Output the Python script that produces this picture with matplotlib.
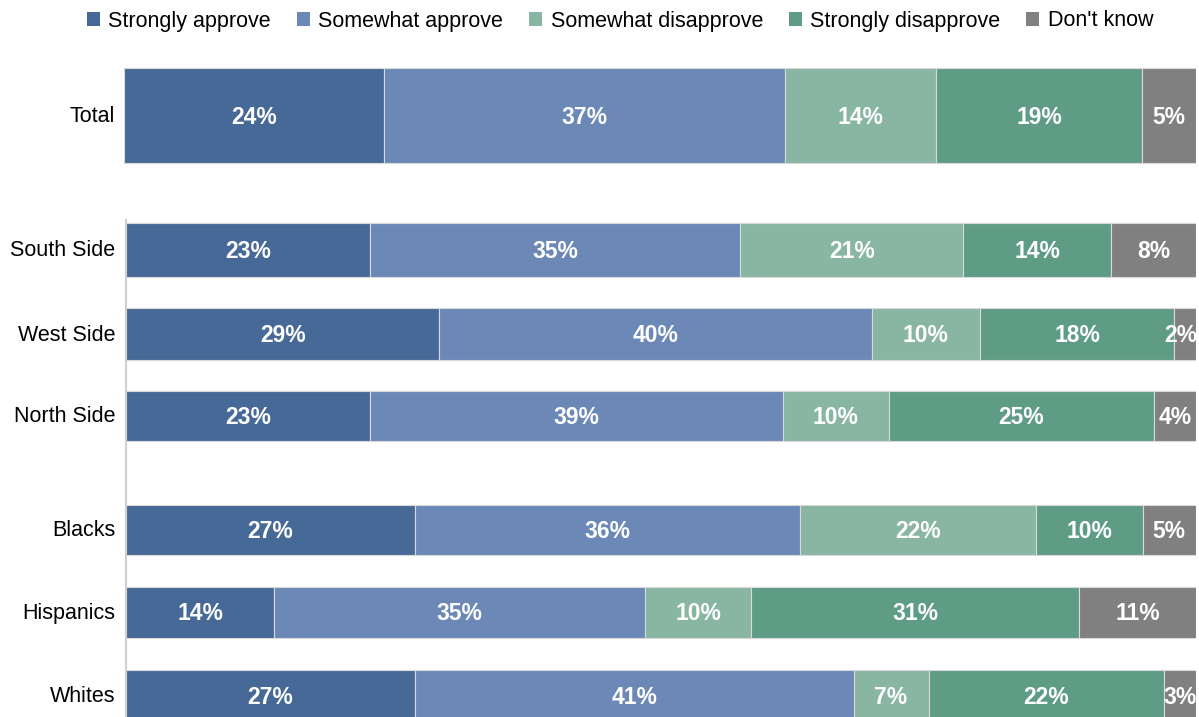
import matplotlib.pyplot as plt
from matplotlib.patches import Patch
import numpy as np

plt.rcParams["font.family"] = ["Liberation Sans", "DejaVu Sans"]

groups = ["Total", "South Side", "West Side", "North Side", "Blacks", "Hispanics", "Whites"]
series = ["Strongly approve", "Somewhat approve", "Somewhat disapprove",
          "Strongly disapprove", "Don't know"]
strongly_approve = [24, 23, 29, 23, 27, 14, 27]
somewhat_approve = [37, 35, 40, 39, 36, 35, 41]
somewhat_disapprove = [14, 21, 10, 10, 22, 10, 7]
strongly_disapprove = [19, 14, 18, 25, 10, 31, 22]
dont_know = [5, 8, 2, 4, 5, 11, 3]

colors = ["#476997", "#6b88b7", "#89b5a3", "#5f9c86", "#808080"]

# layout in pixel units (y centre / bar height)
y_pos = [115, 250, 334, 416, 530, 612, 695]
heights = [95, 54, 52, 50, 50, 51, 50]

vals = np.array([strongly_approve, somewhat_approve, somewhat_disapprove,
                 strongly_disapprove, dont_know], dtype=float)
shares = vals / vals.sum(axis=0) * 100

W, H = 1199, 717
fig = plt.figure(figsize=(W / 100, H / 100), dpi=100)

# top axes: Total only, bottom axes: the rest (with the grey left line)
ax_top = fig.add_axes([124 / W, 1 - 175 / H, (1196 - 124) / W, (175 - 55) / H])
ax_top.set_xlim(0, 100)
ax_top.set_ylim(175, 55)
ax = fig.add_axes([126 / W, 0, (1196 - 126) / W, (717 - 220) / H])
ax.set_xlim(0, 100)
ax.set_ylim(717, 220)

for i, g in enumerate(groups):
    a = ax_top if i == 0 else ax
    left = 0
    for s in range(len(series)):
        w = shares[s, i]
        a.barh(y_pos[i], w, left=left, height=heights[i], color=colors[s],
               edgecolor="#d9d9d9", linewidth=0.8)
        # tiny segments: keep the label inside the chart edge
        if w < 3:
            tx, ha = left + w + 0.1, "right"
        else:
            tx, ha = left + w / 2, "center"
        a.text(tx, y_pos[i] + 2, f"{int(vals[s, i])}%", ha=ha,
               va="center", color="white", fontsize=16.5, fontweight="bold")
        left += w
    fig.text(115 / W, 1 - (y_pos[i] + 1) / H, g, ha="right", va="center",
             fontsize=15.5)

for a in (ax_top, ax):
    a.set_xticks([])
    a.set_yticks([])
    for sp in a.spines.values():
        sp.set_visible(False)
ax.spines["left"].set_visible(True)
ax.spines["left"].set_color("#d0d0d0")
ax.spines["left"].set_linewidth(1.5)

handles = [Patch(facecolor=c, edgecolor="none", label=l) for c, l in zip(colors, series)]
fig.legend(handles=handles, loc="center", bbox_to_anchor=(620 / W, 1 - 21 / H),
           ncol=5, frameon=False, fontsize=15.5, handlelength=0.6, handleheight=0.6,
           handletextpad=0.4, columnspacing=1.2)

fig.savefig("out.png", dpi=100)
